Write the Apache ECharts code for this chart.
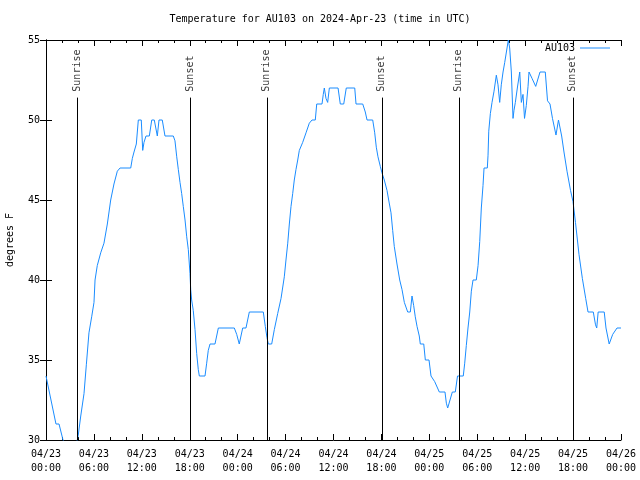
<!DOCTYPE html>
<html>
<head>
<meta charset="utf-8">
<script src="https://cdn.jsdelivr.net/npm/echarts@6/dist/echarts.min.js"></script>
<style>html,body{margin:0;padding:0;background:#fff}#c{width:640px;height:480px}</style>
</head>
<body>
<div id="c"></div>
<script>
// hours since 2024-04-23 00:00 UTC
var hours = [0,1.25,1.63,2.13,2.8,3.3,3.92,4.04,4.35,4.76,5.05,5.38,5.72,6.01,6.14,6.42,6.85,7.26,7.68,8.10,8.51,8.93,9.27,10.61,10.81,11.02,11.31,11.56,11.93,12.11,12.27,12.52,12.94,13.24,13.56,13.94,14.15,14.56,14.90,15.94,16.15,16.37,16.57,16.78,16.99,17.19,17.41,17.62,17.82,18.03,18.12,18.24,18.44,18.66,18.87,19.07,19.20,19.91,20.12,20.32,20.54,21.16,21.37,21.58,23.58,23.88,24.20,24.63,25.04,25.46,27.21,27.46,27.67,27.84,28.26,28.59,29.01,29.43,29.84,30.05,30.27,30.47,30.68,30.89,31.09,31.30,31.52,31.72,32.14,32.56,32.97,33.31,33.72,33.90,34.56,34.72,34.85,35.06,35.27,35.48,36.57,36.85,37.28,37.60,38.66,38.82,39.66,39.98,40.20,40.91,41.16,41.36,41.57,41.86,42.07,42.36,42.70,42.91,43.20,43.41,43.61,43.95,44.29,44.58,44.87,45.29,45.62,45.83,46.04,46.24,46.46,46.74,46.87,47.30,47.50,47.96,48.21,48.67,49.25,49.96,50.13,50.30,50.55,50.88,51.25,51.53,52.25,52.43,52.63,52.84,53.06,53.26,53.47,53.88,54.10,54.31,54.51,54.72,54.85,55.26,55.35,55.44,55.64,55.85,56.10,56.39,56.60,56.81,57.01,57.23,57.44,57.73,57.89,58.06,58.27,58.48,58.60,58.77,59.02,59.32,59.52,59.73,59.92,60.14,60.36,60.48,60.86,61.32,61.86,62.52,62.80,63.11,63.42,63.86,64.17,64.57,64.86,65.24,65.68,65.99,66.30,66.74,67.16,67.58,67.87,68.53,68.81,68.96,69.14,69.90,70.12,70.52,70.96,71.50,72.0];
var temps = [34.0,31.0,31.0,30.0,29.5,29.3,30.0,30.3,31.5,32.9,34.7,36.7,37.7,38.6,40.0,40.9,41.7,42.3,43.5,45.0,46.0,46.8,47.0,47.0,47.6,48.0,48.5,50.0,50.0,48.1,48.6,49.0,49.0,50.0,50.0,49.0,50.0,50.0,49.0,49.0,48.7,47.7,46.9,46.1,45.4,44.6,43.75,42.7,41.9,40.4,39.4,38.75,38.1,36.9,35.4,34.4,34.0,34.0,34.8,35.6,36.0,36.0,36.5,37.0,37.0,36.6,36.0,37.0,37.0,38.0,38.0,37.1,36.4,36.0,36.0,36.9,37.9,38.85,40.2,41.25,42.3,43.5,44.6,45.4,46.25,46.9,47.5,48.1,48.6,49.2,49.8,50.0,50.0,51.0,51.0,51.6,52.0,51.35,51.1,52.0,52.0,51.0,51.0,52.0,52.0,51.0,51.0,50.5,50.0,50.0,49.2,48.3,47.7,47.1,46.7,46.25,45.6,45.0,44.2,43.1,42.1,41.0,40.0,39.4,38.6,38.0,38.0,39.0,38.4,37.7,37.1,36.5,36.0,36.0,35.0,35.0,34.0,33.65,33.0,33.0,32.3,32.0,32.0,33.0,33.0,34.0,34.0,34.8,35.9,37.0,38.0,39.3,40.0,40.0,40.9,42.4,44.5,45.9,47.0,47.0,47.8,49.3,50.4,51.1,51.8,52.8,52.2,51.1,52.2,53.0,53.6,54.5,55.0,54.5,53.0,50.1,50.6,51.1,52.0,53.0,51.1,51.6,50.1,50.9,52.1,53.0,52.6,52.1,53.0,53.0,51.2,51.0,50.1,49.06,50.0,49.0,48.0,46.8,45.6,44.9,43.6,41.6,40.1,38.85,38.0,38.0,37.2,37.0,38.0,38.0,37.0,36.0,36.6,37.0,37.0];
var sunriseHours = [3.88, 27.66, 51.7];
var sunsetHours = [18.02, 42.05, 65.96];
var tickLabels = ['04/23\n00:00','04/23\n06:00','04/23\n12:00','04/23\n18:00','04/24\n00:00','04/24\n06:00','04/24\n12:00','04/24\n18:00','04/25\n00:00','04/25\n06:00','04/25\n12:00','04/25\n18:00','04/26\n00:00'];
var seriesName = 'AU103';

var FONT = 'DejaVu Sans Mono';
var lineData = hours.map(function(h, i){ return [h, temps[i]]; });
var sunLines = [];
var sunLabels = [];
sunriseHours.forEach(function(h){
  sunLines.push([{coord:[h,30]},{coord:[h,51.4]}]);
  sunLabels.push({value:[h,51.77], name:'Sunrise'});
});
sunsetHours.forEach(function(h){
  sunLines.push([{coord:[h,30]},{coord:[h,51.4]}]);
  sunLabels.push({value:[h,51.77], name:'Sunset'});
});

var xBase = {
  type:'value', min:0, max:72, interval:6,
  axisLine:{show:true, lineStyle:{color:'#000', width:1}},
  axisTick:{show:true, inside:true, length:6, lineStyle:{color:'#000'}},
  minorTick:{show:true, splitNumber:3, length:3, lineStyle:{color:'#000'}},
  splitLine:{show:false}
};
var yBase = {
  type:'value', min:30, max:55, interval:5,
  axisLine:{show:true, lineStyle:{color:'#000', width:1}},
  axisTick:{show:true, inside:true, length:6, lineStyle:{color:'#000'}},
  splitLine:{show:false}
};

var chart = echarts.init(document.getElementById('c'), null, {renderer:'canvas'});
chart.setOption({
  backgroundColor:'#fff',
  animation:false,
  title:{text:'Temperature for AU103 on 2024-Apr-23 (time in UTC)', left:'center', top:14, padding:0,
    textStyle:{fontFamily:FONT, fontSize:10, fontWeight:'normal', color:'#000'}},
  legend:{data:[{name:seriesName, icon:'rect'}], right:30, top:43, align:'right', itemWidth:30, itemHeight:1, padding:0,
    textStyle:{fontFamily:FONT, fontSize:10, color:'#000'}},
  grid:{left:46, right:19, top:40, bottom:40, containLabel:false, outerBoundsMode:'none'},
  xAxis:[
    Object.assign({}, xBase, {position:'bottom',
      axisLabel:{show:true, margin:7, fontFamily:FONT, fontSize:10, color:'#000', lineHeight:14,
        showMinLabel:true, showMaxLabel:true, hideOverlap:false,
        formatter:function(v){ return tickLabels[Math.round(v/6)]; }}}),
    Object.assign({}, xBase, {position:'top', axisLabel:{show:false}})
  ],
  yAxis:[
    Object.assign({}, yBase, {position:'left', name:'degrees F', nameLocation:'middle', nameGap:31, nameRotate:90,
      nameTextStyle:{fontFamily:FONT, fontSize:10, color:'#000'},
      axisLabel:{show:true, margin:6, fontFamily:FONT, fontSize:10, color:'#000'}}),
    Object.assign({}, yBase, {position:'right', axisLabel:{show:false}})
  ],
  series:[
    {name:seriesName, type:'line', data:lineData, symbol:'none', showSymbol:false, clip:true,
      lineStyle:{color:'#1a8cff', width:1}, itemStyle:{color:'#1a8cff'},
      markLine:{silent:true, symbol:['none','none'], animation:false,
        lineStyle:{color:'#000', width:1, type:'solid'}, label:{show:false}, data:sunLines}},
    {name:'sunlabels', type:'scatter', data:sunLabels, symbolSize:0, silent:true,
      label:{show:true, position:'inside', rotate:90, align:'left', verticalAlign:'middle',
        fontFamily:FONT, fontSize:10, color:'#000', formatter:function(p){return p.name;}}}
  ]
});
</script>
</body>
</html>
